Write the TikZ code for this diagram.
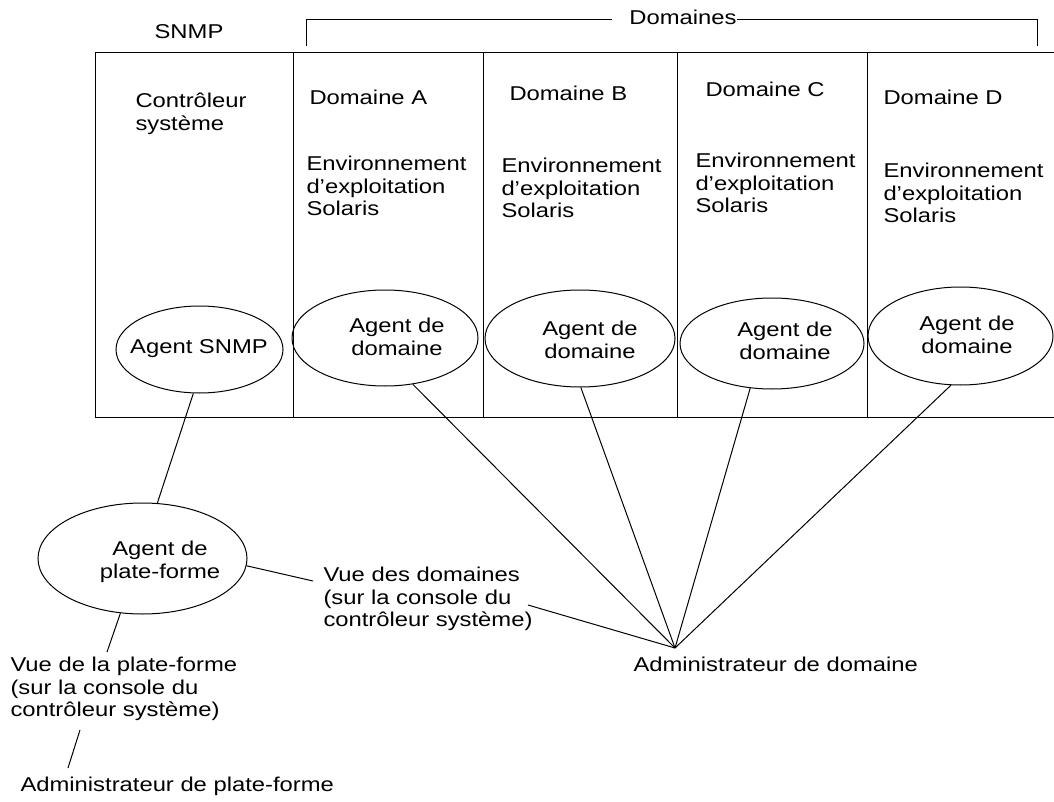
\documentclass[tikz,border=0pt]{standalone}
\usepackage{fontspec}
\setmainfont[FakeStretch=1.19]{Liberation Sans}
\usetikzlibrary{shapes.geometric}
\begin{document}
\begin{tikzpicture}[x=1pt,y=-1pt,line width=1pt,
  every node/.style={inner sep=0pt,font=\fontsize{20}{22.5}\selectfont},
  txt/.style={align=left,anchor=west},
  lbl/.style={align=center},
  agent/.style={draw,ellipse}]
\useasboundingbox (0,0) rectangle (1054,802);
% frame
\coordinate (tl) at (95,53);
\coordinate (tr) at (1054,53);
\coordinate (bl) at (95,417);
\coordinate (br) at (1054,417);
\draw (tr) -- (tl) -- (bl) -- (br);
\foreach \x/\n in {293/d1,483/d2,677/d3,867/d4}{
  \coordinate (\n t) at (\x,53);
  \coordinate (\n b) at (\x,417);
  \draw (\n t) -- (\n b);
}
% top labels
\node (snmp) at (189,32) {SNMP};
\node[anchor=base] (doms) at (683,25) {Domaines};
\coordinate (bk1) at (306,46);
\coordinate (bk2) at (306,20);
\coordinate (bk3) at (612,20);
\coordinate (bk4) at (737,20);
\coordinate (bk5) at (1037,20);
\coordinate (bk6) at (1037,46);
\draw (bk1) -- (bk2) -- (bk3);
\draw (bk4) -- (bk5) -- (bk6);
% column texts
\node[txt] (ctrl) at (135,114) {Contrôleur\\système};
\node[txt] (dA) at (309,97) {Domaine A};
\node[txt] (dB) at (509,93) {Domaine B};
\node[txt] (dC) at (705,89) {Domaine C};
\node[txt] (dD) at (883,97) {Domaine D};
\node[txt] (eA) at (306,186) {Environnement\\d’exploitation\\Solaris};
\node[txt] (eB) at (501,188) {Environnement\\d’exploitation\\Solaris};
\node[txt] (eC) at (695,183) {Environnement\\d’exploitation\\Solaris};
\node[txt] (eD) at (883,193) {Environnement\\d’exploitation\\Solaris};
% agents
\node[agent,minimum width=167,minimum height=87] (agS) at (199.5,349.5) {};
\node[agent,minimum width=186,minimum height=96] (agA) at (385,338) {};
\node[agent,minimum width=190,minimum height=97] (agB) at (580,338.5) {};
\node[agent,minimum width=184,minimum height=91] (agC) at (772,343.5) {};
\node[agent,minimum width=185,minimum height=98] (agD) at (960.5,336) {};
\node[agent,minimum width=209,minimum height=111] (plat) at (142.5,558.5) {};
\node[lbl] (tS) at (199,349) {Agent SNMP};
\node[lbl] (tA) at (397,337) {Agent de\\domaine};
\node[lbl] (tB) at (590,340) {Agent de\\domaine};
\node[lbl] (tC) at (785,341) {Agent de\\domaine};
\node[lbl] (tD) at (967,335) {Agent de\\domaine};
\node[lbl] (tP) at (160,562) {Agent de\\plate-forme};
% lower texts
\node[txt] (vd) at (323,599) {Vue des domaines\\(sur la console du\\contrôleur système)};
\node[txt] (admd) at (633,664) {Administrateur de domaine};
\node[txt] (vp) at (10,689) {Vue de la plate-forme\\(sur la console du\\contrôleur système)};
\node[txt] (admp) at (20,786) {Administrateur de plate-forme};
\coordinate (apex) at (675,648);
\coordinate (vd1) at (313,581);
\coordinate (vd2) at (528,605);
\coordinate (vp1) at (107,652);
\coordinate (vp2) at (80,730);
\coordinate (ap1) at (68,768);
% connectors
\draw (agS.-98.5) -- (plat.75);
\draw (plat.-4.6) -- (vd1);
\draw (vd2) -- (apex);
\draw (agA.-59.5) -- (apex);
\draw (agB.-89) -- (apex);
\draw (agC.-116.8) -- (apex);
\draw (agD.-101) -- (apex);
\draw (plat.-112) -- (vp1);
\draw (vp2) -- (ap1);
\end{tikzpicture}
\end{document}
